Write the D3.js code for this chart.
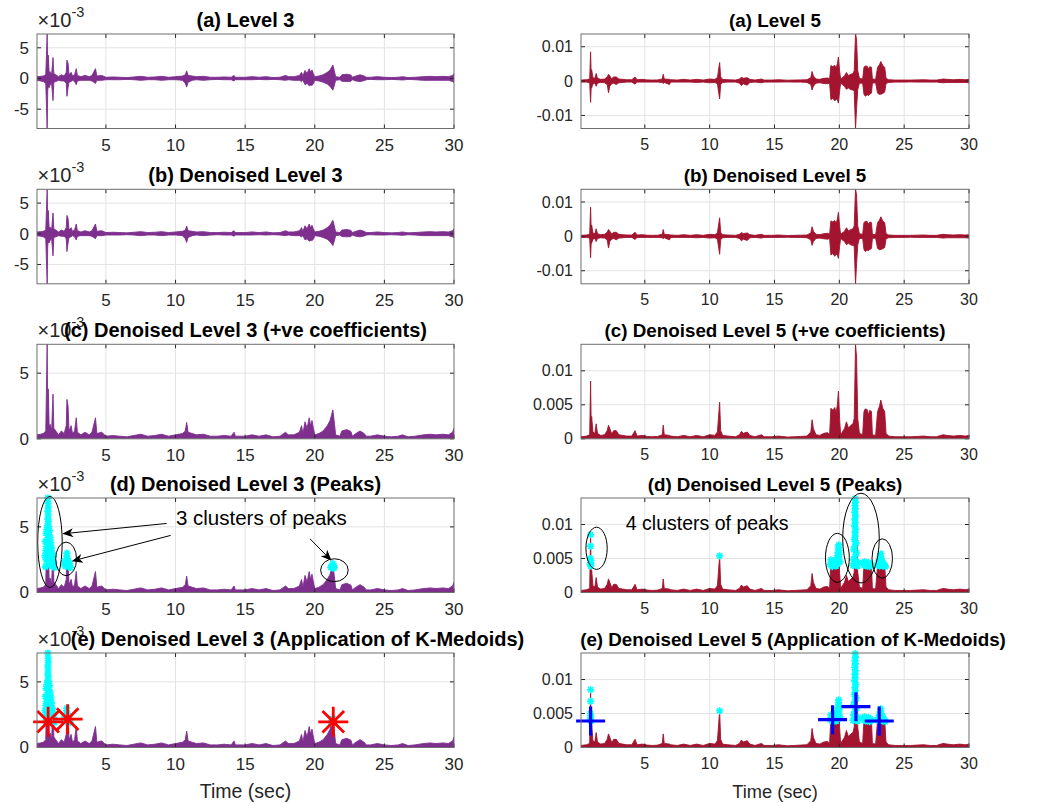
<!DOCTYPE html>
<html><head><meta charset="utf-8">
<script src="https://cdn.jsdelivr.net/npm/d3@7"></script>
<style>body{margin:0;background:#fff;} svg{display:block;font-family:Arial,"Liberation Sans",sans-serif;}</style>
</head><body><svg id="c" width="1064" height="803"></svg>
<script>
// ---------------- DATA ----------------
// envelope of the detail coefficients: [time (s), upper, lower] in units of 1e-3
const L3_ENV = [
[0.05,0.3,-0.3],[0.3,0.35,-0.4],[0.5,0.4,-0.5],[0.68,0.6,-0.8],[0.78,7.3,-8.2],[0.82,1.5,-2.0],[0.86,3.8,-1.2],
[0.92,1.0,-1.5],[1.0,1.1,-1.0],[1.1,0.6,-0.8],[1.2,3.4,-3.6],[1.26,0.8,-0.6],[1.4,0.6,-0.5],[1.6,0.3,-0.3],
[1.8,0.6,-0.4],[2.0,0.4,-0.4],[2.15,1.0,-0.8],[2.2,3.0,-2.9],[2.28,2.5,-1.5],[2.35,0.6,-0.6],[2.5,1.0,-0.5],
[2.6,0.4,-0.3],[2.75,0.6,-0.5],[2.87,1.6,-1.0],[2.95,0.5,-0.4],[3.2,0.3,-0.3],[3.5,0.5,-0.3],[3.8,0.3,-0.3],
[4.0,0.5,-0.4],[4.25,1.6,-0.8],[4.35,0.4,-0.3],[4.7,0.5,-0.3],[5.0,0.2,-0.2],[5.5,0.25,-0.2],[6.0,0.2,-0.2],
[6.5,0.15,-0.15],[7.0,0.25,-0.2],[7.5,0.35,-0.3],[8.0,0.2,-0.2],[8.5,0.25,-0.2],[9.0,0.35,-0.3],[9.5,0.2,-0.2],
[10.0,0.3,-0.2],[10.5,0.4,-0.3],[10.7,0.6,-0.8],[10.8,1.25,-1.4],[10.9,0.5,-0.6],[11.2,0.4,-0.3],[11.5,0.3,-0.2],
[12.0,0.35,-0.3],[12.5,0.2,-0.2],[13.0,0.2,-0.15],[13.5,0.25,-0.2],[14.0,0.2,-0.2],[14.2,0.5,-0.4],[14.3,0.2,-0.2],
[15.0,0.2,-0.2],[15.5,0.3,-0.2],[16.0,0.2,-0.15],[16.5,0.3,-0.2],[17.0,0.15,-0.15],[17.5,0.2,-0.2],[17.9,0.5,-0.3],
[18.1,0.3,-0.2],[18.5,0.3,-0.3],[18.9,0.5,-0.3],[19.05,1.0,-0.5],[19.15,0.4,-0.3],[19.3,1.3,-1.0],[19.45,0.8,-0.8],
[19.6,1.6,-1.2],[19.7,1.0,-1.1],[19.8,1.4,-1.1],[19.9,0.8,-0.9],[20.0,0.3,-0.3],[20.3,0.4,-0.4],[20.6,0.6,-0.6],
[20.9,1.0,-0.9],[21.1,1.4,-1.3],[21.3,2.2,-1.9],[21.4,1.3,-1.2],[21.5,0.3,-0.3],[21.8,0.2,-0.2],[21.95,0.6,-0.45],
[22.3,0.7,-0.5],[22.6,0.55,-0.45],[22.7,0.2,-0.2],[22.95,0.4,-0.4],[23.25,0.6,-0.5],[23.55,0.4,-0.35],[23.7,0.2,-0.2],
[24.0,0.2,-0.15],[24.5,0.3,-0.2],[25.0,0.2,-0.2],[25.5,0.15,-0.15],[26.0,0.2,-0.2],[26.3,0.3,-0.25],[26.7,0.15,-0.15],
[27.2,0.2,-0.2],[27.8,0.3,-0.3],[28.3,0.35,-0.3],[28.7,0.3,-0.3],[29.2,0.35,-0.3],[29.6,0.3,-0.3],[29.9,0.5,-0.5],[30,0.8,-0.7]
];
const L5_ENV = [
[0.08,0.3,-0.3],[0.5,0.4,-0.3],[0.75,0.6,-0.5],[0.82,8.5,-6.2],[0.87,1.5,-1.5],[0.9,3.3,-2.0],[1.0,1.0,-0.8],
[1.15,0.8,-0.6],[1.25,2.2,-1.5],[1.35,0.8,-0.6],[1.6,0.5,-0.4],[1.9,0.6,-0.5],[2.1,1.2,-1.0],[2.2,2.0,-3.4],
[2.3,1.5,-1.5],[2.45,0.7,-0.8],[2.6,1.2,-0.6],[2.8,1.2,-1.0],[3.0,0.6,-0.5],[3.3,0.5,-0.4],[3.6,0.4,-0.3],
[4.0,0.4,-0.3],[4.25,1.2,-0.9],[4.4,0.4,-0.3],[4.8,0.5,-0.3],[5.2,0.35,-0.3],[5.6,0.3,-0.3],[6.0,0.35,-0.3],
[6.35,0.6,-0.4],[6.42,2.0,-0.7],[6.5,0.6,-0.4],[6.9,0.5,-1.0],[7.0,0.4,-0.3],[7.5,0.3,-0.3],[8.0,0.5,-0.3],
[8.5,0.3,-0.3],[9.0,0.5,-0.4],[9.5,0.3,-0.3],[10.0,0.6,-0.5],[10.4,0.5,-0.4],[10.6,1.0,-0.8],[10.77,5.4,-5.2],
[10.85,1.2,-1.0],[11.0,0.5,-0.4],[11.4,0.4,-0.3],[12.0,0.3,-0.3],[12.3,0.6,-0.6],[12.45,1.1,-1.3],[12.6,0.8,-0.8],
[12.9,1.0,-1.2],[13.1,0.5,-0.4],[13.5,0.3,-0.3],[14.0,0.6,-0.5],[14.2,0.3,-0.3],[14.8,0.3,-0.3],[15.3,0.4,-0.3],
[16.0,0.25,-0.25],[16.5,0.3,-0.3],[17.0,0.35,-0.3],[17.5,0.4,-0.4],[17.8,1.0,-1.0],[17.9,2.8,-2.6],[18.0,1.5,-1.5],
[18.2,0.6,-0.6],[18.5,0.5,-0.5],[18.8,0.8,-0.7],[19.1,0.9,-0.8],[19.25,0.6,-0.6],[19.35,4.5,-5.4],[19.5,4.2,-5.0],
[19.65,4.6,-5.8],[19.75,3.8,-5.2],[19.85,5.0,-5.5],[19.93,7.0,-6.4],[20.02,3.0,-3.0],[20.1,0.6,-0.6],[20.4,1.5,-1.5],
[20.55,2.5,-2.4],[20.7,1.6,-2.0],[20.9,2.0,-2.5],[21.05,2.2,-2.6],[21.15,3.0,-3.0],[21.25,13.9,-13.9],[21.33,12.0,-8.0],
[21.42,3.0,-2.5],[21.55,0.8,-0.6],[21.8,0.6,-0.6],[21.9,4.0,-3.8],[22.0,4.4,-4.4],[22.15,4.3,-4.0],[22.25,3.5,-4.2],
[22.35,4.2,-3.8],[22.48,4.0,-3.5],[22.55,0.6,-0.6],[22.8,0.5,-0.5],[22.95,4.0,-3.5],[23.1,4.8,-3.9],[23.2,5.7,-3.8],
[23.35,4.5,-3.6],[23.5,4.0,-3.2],[23.6,0.8,-0.7],[23.8,0.4,-0.4],[24.3,0.3,-0.3],[25.0,0.3,-0.3],[25.5,0.3,-0.25],
[26.0,0.35,-0.3],[26.5,0.4,-0.3],[27.0,0.3,-0.3],[27.5,0.3,-0.3],[28.0,0.6,-0.5],[28.3,0.5,-0.4],[28.8,0.4,-0.4],
[29.3,0.5,-0.4],[29.7,0.4,-0.4],[30,0.5,-0.5]
];
// detected peaks: [time (s), value ×1e-3]
const L3_PEAKS = [
[0.83,7.2],[0.84,6.8],[0.86,6.5],[0.83,6.2],[0.85,5.9],[0.82,5.6],[0.87,5.4],[0.8,5.1],[0.9,5.0],[0.75,4.8],
[0.95,4.7],[0.7,4.5],[0.88,4.4],[1.0,4.2],[0.78,4.0],[0.65,3.9],[1.05,3.8],[0.92,3.6],[0.72,3.5],[1.1,3.4],
[0.68,3.2],[0.98,3.1],[1.15,3.0],[0.8,2.9],[0.62,2.8],[1.2,2.7],[0.9,2.6],[0.7,2.5],[1.05,2.4],[1.25,2.3],
[0.78,2.2],[0.95,2.1],[1.18,2.0],[0.66,1.95],[1.3,1.9],
[2.2,3.0],[2.18,2.8],[2.22,2.6],[2.05,2.4],[2.3,2.4],[2.15,2.3],[2.4,2.2],[2.0,2.1],[2.25,2.1],[2.1,2.0],[2.35,1.95],[2.45,1.9],
[21.3,2.2],[21.25,2.05],[21.35,2.0],[21.2,1.95],[21.4,1.9],[21.3,1.85],[21.15,1.9]
];
const L5_PEAKS = [
[0.82,8.5],[0.82,6.8],[0.8,5.0],[0.84,4.7],[0.82,4.4],[0.8,4.1],[0.84,3.9],
[10.77,5.4],
[19.95,7.0],[19.92,6.6],[19.97,6.2],[19.9,5.9],[20.0,5.6],[19.85,5.4],[19.95,5.1],[19.8,4.9],[19.7,4.7],[19.5,4.6],
[19.35,4.8],[19.6,4.4],[19.4,4.3],[19.3,4.1],[19.55,4.0],[19.75,3.9],[19.9,4.2],[19.45,3.8],[20.05,4.5],[19.65,4.1],
[21.22,13.8],[21.25,13.3],[21.2,12.8],[21.24,12.3],[21.18,11.8],[21.26,11.3],[21.2,10.8],[21.23,10.3],[21.17,9.8],
[21.27,9.3],[21.2,8.8],[21.24,8.3],[21.15,7.8],[21.3,7.3],[21.2,6.8],[21.12,6.3],[21.33,5.8],[21.2,5.3],[21.1,4.8],
[21.35,4.5],[21.25,4.2],[21.05,4.0],[21.4,3.9],
[21.8,4.4],[21.95,4.5],[22.1,4.3],[22.25,4.4],[22.4,4.2],[22.5,4.0],[21.9,4.0],[22.05,3.9],[22.2,3.9],[22.35,3.8],
[23.2,5.7],[23.15,5.3],[23.25,5.0],[23.1,4.8],[23.3,4.6],[23.0,4.4],[23.4,4.3],[23.2,4.2],[23.5,4.0],[22.95,4.0],
[23.35,3.9],[23.1,3.9],[23.55,3.8]
];
// K-medoids cluster centres: [time, value ×1e-3]
const L3_MEDOIDS = [[0.85,1.96],[2.25,2.16],[21.33,1.96]];
const L5_MEDOIDS = [[0.82,3.9],[19.48,4.1],[21.28,6.0],[23.08,3.9]];
// annotation ellipses [cx, cy, rx, ry] and arrows [x0, y0, x1, y1] (data units)
const L3_ELLIPSES = [[0.98,3.85,0.88,3.47],[2.14,2.56,0.75,1.28],[21.41,1.7,0.99,0.87]];
const L5_ELLIPSES = [[1.28,6.5,0.82,3.1],[19.85,5.1,0.92,3.6],[21.67,8.0,1.41,6.6],[23.31,5.0,0.79,2.9]];
const L3_ARROWS = [[9.36,5.26,1.86,4.47],[9.65,4.35,2.54,2.39],[19.66,4.09,21.21,2.41]];
const L3_NOTE = {text:"3 clusters of peaks", t:10.03, v:5.13};
const L5_NOTE = {text:"4 clusters of peaks", t:3.54, v:9.2};
// ticks
const X_TICKS = [5,10,15,20,25,30];
const L3_SIGNED_TICKS = [-5,0,5], L3_SIGNED_LABELS = ["-5","0","5"];
const L3_POS_TICKS = [0,5], L3_POS_LABELS = ["0","5"];
const L5_SIGNED_TICKS = [-10,0,10], L5_SIGNED_LABELS = ["-0.01","0","0.01"];
const L5_POS_TICKS = [0,5,10], L5_POS_LABELS = ["0","0.005","0.01"];
const L3_TITLES = ["(a) Level 3","(b) Denoised Level 3","(c) Denoised Level 3 (+ve coefficients)","(d) Denoised Level 3 (Peaks)","(e) Denoised Level 3 (Application of K-Medoids)"];
const L5_TITLES = ["(a) Level 5","(b) Denoised Level 5","(c) Denoised Level 5 (+ve coefficients)","(d) Denoised Level 5 (Peaks)","(e) Denoised Level 5 (Application of K-Medoids)"];
const X_LABEL = "Time (sec)";

// ---------------- LAYOUT ----------------
const ROW_TOPS = [34, 189.3, 344.3, 498, 653];
const ROW_H = 94.5;
const COLS = [
  {x0:37, x1:454, dom:[0.05,30], color:"#7E2F8E", env:L3_ENV, peaks:L3_PEAKS, med:L3_MEDOIDS, medShape:"star", medColor:"#FF0000",
   ell:L3_ELLIPSES, arrows:L3_ARROWS, note:L3_NOTE, titles:L3_TITLES, sdom:[-8.15,7.25], pdom:[0,7.2],
   sT:L3_SIGNED_TICKS, sL:L3_SIGNED_LABELS, pT:L3_POS_TICKS, pL:L3_POS_LABELS, exp:true,
   fs:17, tfs:20, nfs:20.5, lfs:19.5, titleShift:[0,0,0,0,52], xlabGap:22.5},
  {x0:581, x1:969, dom:[0.08,30], color:"#A2142F", env:L5_ENV, peaks:L5_PEAKS, med:L5_MEDOIDS, medShape:"plus", medColor:"#0000FF",
   ell:L5_ELLIPSES, arrows:[], note:L5_NOTE, titles:L5_TITLES, sdom:[-13.8,13.7], pdom:[0,13.9],
   sT:L5_SIGNED_TICKS, sL:L5_SIGNED_LABELS, pT:L5_POS_TICKS, pL:L5_POS_LABELS, exp:false,
   fs:16, tfs:18.8, nfs:19.5, lfs:18.3, titleShift:[0,0,0,0,18], xlabGap:21}
];

const svg = d3.select("#c");
const defs = svg.append("defs");
let clipId = 0;

function starPath(s){ const d=s*0.72; return `M0,${-s}L0,${s}M${-s},0L${s},0M${-d},${-d}L${d},${d}M${-d},${d}L${d},${-d}`; }
function plusPath(s){ return `M0,${-s}L0,${s}M${-s},0L${s},0`; }

COLS.forEach(col => {
  const x = d3.scaleLinear().domain(col.dom).range([col.x0, col.x1]);
  ROW_TOPS.forEach((top, r) => {
    const bottom = top + ROW_H;
    const signed = r < 2;
    const y = d3.scaleLinear().domain(signed ? col.sdom : col.pdom).range([bottom, top]);
    const yT = signed ? col.sT : col.pT, yL = signed ? col.sL : col.pL;
    const g = svg.append("g");
    // grid
    g.append("g").selectAll("line.gx").data(X_TICKS.filter(t=>t<col.dom[1])).join("line")
      .attr("x1", d=>x(d)).attr("x2", d=>x(d)).attr("y1", top).attr("y2", bottom)
      .attr("stroke", "#e3e3e3").attr("stroke-width", 1);
    g.append("g").selectAll("line.gy").data(yT).join("line")
      .attr("x1", col.x0).attr("x2", col.x1).attr("y1", d=>y(d)).attr("y2", d=>y(d))
      .attr("stroke", "#e3e3e3").attr("stroke-width", 1);
    // clip
    const id = "clip" + (clipId++);
    defs.append("clipPath").attr("id", id).append("rect")
      .attr("x", col.x0).attr("y", top).attr("width", col.x1-col.x0).attr("height", ROW_H);
    const dg = g.append("g").attr("clip-path", `url(#${id})`);
    const area = d3.area().x(d=>x(d[0]))
      .y0(d => signed ? y(d[2]) : y(0)).y1(d=>y(d[1]));
    dg.append("path").datum(col.env).attr("d", area)
      .attr("fill", col.color).attr("stroke", col.color).attr("stroke-width", 0.9).attr("stroke-linejoin","round");
    // peaks
    if (r >= 3) {
      g.append("g").selectAll("path").data(col.peaks).join("path")
        .attr("transform", d=>`translate(${x(d[0])},${y(d[1])})`)
        .attr("d", starPath(3.6)).attr("stroke", "#00FFFF").attr("stroke-width", 1.6).attr("fill","none");
    }
    if (r === 3) {
      g.append("g").selectAll("ellipse").data(col.ell).join("ellipse")
        .attr("cx", d=>x(d[0])).attr("cy", d=>y(d[1]))
        .attr("rx", d=>x(d[0]+d[2])-x(d[0])).attr("ry", d=>y(d[1]-d[3])-y(d[1]))
        .attr("fill","none").attr("stroke","#000").attr("stroke-width",1);
      col.arrows.forEach(a => {
        const x0=x(a[0]), y0=y(a[1]), x1=x(a[2]), y1=y(a[3]);
        const ang = Math.atan2(y1-y0, x1-x0);
        const L=11, W=4.5, N=8;
        const bx = x1 - L*Math.cos(ang), by = y1 - L*Math.sin(ang);
        const nx = x1 - N*Math.cos(ang), ny = y1 - N*Math.sin(ang);
        const px = -Math.sin(ang), py = Math.cos(ang);
        g.append("line").attr("x1",x0).attr("y1",y0).attr("x2",nx).attr("y2",ny).attr("stroke","#000").attr("stroke-width",1);
        g.append("path").attr("d",`M${x1},${y1}L${bx+px*W},${by+py*W}L${nx},${ny}L${bx-px*W},${by-py*W}Z`).attr("fill","#000");
      });
      g.append("text").attr("x", x(col.note.t)).attr("y", y(col.note.v))
        .attr("font-size", col.nfs).attr("fill","#000").text(col.note.text);
    }
    if (r === 4) {
      g.append("g").selectAll("path").data(col.med).join("path")
        .attr("transform", d=>`translate(${x(d[0])},${y(d[1])})`)
        .attr("d", col.medShape === "star" ? starPath(15) : plusPath(14.5))
        .attr("stroke", col.medColor).attr("stroke-width", col.medShape==="star"?2.8:3.2).attr("fill","none");
    }
    // ticks (inside) and frame
    const tk = g.append("g").attr("stroke","#262626").attr("stroke-width",1);
    X_TICKS.forEach(t => {
      tk.append("line").attr("x1",x(t)).attr("x2",x(t)).attr("y1",bottom).attr("y2",bottom-4);
      tk.append("line").attr("x1",x(t)).attr("x2",x(t)).attr("y1",top).attr("y2",top+4);
    });
    yT.forEach(t => {
      tk.append("line").attr("x1",col.x0).attr("x2",col.x0+4).attr("y1",y(t)).attr("y2",y(t));
      tk.append("line").attr("x1",col.x1).attr("x2",col.x1-4).attr("y1",y(t)).attr("y2",y(t));
    });
    g.append("rect").attr("x",col.x0).attr("y",top).attr("width",col.x1-col.x0).attr("height",ROW_H)
      .attr("fill","none").attr("stroke","#6e6e6e").attr("stroke-width",1);
    // tick labels
    g.append("g").selectAll("text").data(X_TICKS).join("text")
      .attr("x", d=>x(d)).attr("y", bottom + col.xlabGap).attr("text-anchor","middle")
      .attr("font-size", col.fs).attr("fill","#262626").text(d=>d);
    g.append("g").selectAll("text").data(yT).join("text")
      .attr("x", col.x0 - 8).attr("y", d=>y(d)).attr("dy","0.35em").attr("text-anchor","end")
      .attr("font-size", col.fs).attr("fill","#262626").text((d,i)=>yL[i]);
    // exponent label (drawn before the title so the title sits on top, as in the original)
    if (col.exp) {
      const e = g.append("text").attr("x", col.x0 + 0.5).attr("y", top - 7).attr("font-size", 20).attr("fill","#262626");
      e.append("tspan").text("\u00d710");
      e.append("tspan").attr("dy", -10).attr("font-size", 14.5).text("-3");
    }
    // title
    g.append("text").attr("x", (col.x0+col.x1)/2 + col.titleShift[r]).attr("y", top - 7)
      .attr("text-anchor","middle").attr("font-weight","bold").attr("font-size", col.tfs).attr("fill","#000")
      .text(col.titles[r]);
    if (r === 4) {
      g.append("text").attr("x",(col.x0+col.x1)/2).attr("y", 798).attr("text-anchor","middle")
        .attr("font-size", col.lfs).attr("fill","#262626").text(X_LABEL);
    }
  });
});
</script></body></html>
